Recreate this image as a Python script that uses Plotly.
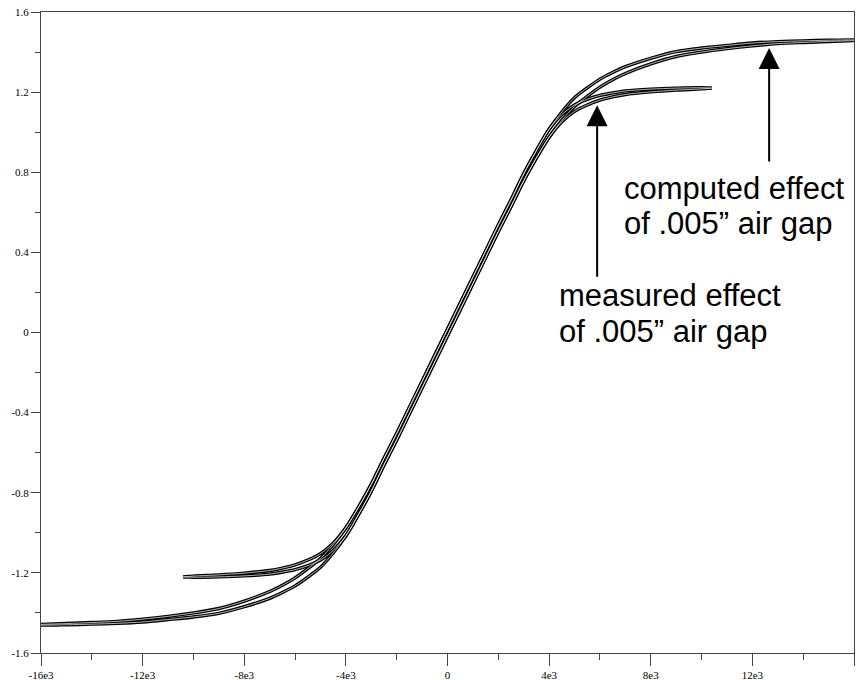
import plotly.graph_objects as go

# ---- data ----
H_computed = [-16700, -16000, -15000, -14000, -13000, -12000, -11000, -10000, -9000, -8000,
              -7000, -6500, -6000, -5500, -5000, -4500, -4000, -3500, -3000, -2500, -2000,
              -1500, -1000, -500, 0, 500, 1000, 1500, 2000, 2500, 3000, 3500, 4000, 4500,
              5000, 5500, 6000, 6500, 7000, 8000, 9000, 10000, 11000, 12000, 13000, 14000,
              15000, 16000, 16700]
B_computed_desc = [-1.46, -1.457, -1.453, -1.448, -1.442, -1.431, -1.417, -1.40, -1.378, -1.341,
                   -1.293, -1.262, -1.225, -1.179, -1.128, -1.059, -0.975, -0.872, -0.758, -0.629,
                   -0.504, -0.374, -0.244, -0.114, 0.016, 0.146, 0.276, 0.406, 0.536, 0.661,
                   0.792, 0.908, 1.015, 1.101, 1.172, 1.221, 1.265, 1.298, 1.327, 1.369, 1.402,
                   1.42, 1.433, 1.445, 1.452, 1.456, 1.459, 1.461, 1.46]
B_computed_asc = [-1.46, -1.461, -1.459, -1.456, -1.452, -1.445, -1.433, -1.42, -1.402, -1.369,
                  -1.327, -1.298, -1.265, -1.221, -1.172, -1.101, -1.015, -0.908, -0.792, -0.661,
                  -0.536, -0.406, -0.276, -0.146, -0.016, 0.114, 0.244, 0.374, 0.504, 0.629,
                  0.758, 0.872, 0.975, 1.059, 1.128, 1.179, 1.225, 1.262, 1.293, 1.341, 1.378,
                  1.40, 1.417, 1.431, 1.442, 1.448, 1.453, 1.457, 1.46]

H_measured = [-10400, -10000, -9000, -8000, -7000, -6500, -6000, -5500, -5000, -4500, -4000,
              -3500, -3000, -2500, -2000, -1500, -1000, -500, 0, 500, 1000, 1500, 2000, 2500,
              3000, 3500, 4000, 4500, 5000, 5500, 6000, 6500, 7000, 8000, 9000, 10000, 10400]
B_measured_desc = [-1.22, -1.216, -1.21, -1.201, -1.188, -1.176, -1.16, -1.136, -1.104, -1.052,
                   -0.975, -0.872, -0.758, -0.629, -0.504, -0.374, -0.244, -0.114, 0.016, 0.146,
                   0.276, 0.406, 0.536, 0.661, 0.792, 0.908, 1.015, 1.088, 1.136, 1.164, 1.184,
                   1.196, 1.206, 1.215, 1.22, 1.222, 1.22]
B_measured_asc = [-1.22, -1.222, -1.22, -1.215, -1.206, -1.196, -1.184, -1.164, -1.136, -1.088,
                  -1.015, -0.908, -0.792, -0.661, -0.536, -0.406, -0.276, -0.146, -0.016, 0.114,
                  0.244, 0.374, 0.504, 0.629, 0.758, 0.872, 0.975, 1.052, 1.104, 1.136, 1.16,
                  1.176, 1.188, 1.201, 1.21, 1.216, 1.22]

x_tick_vals = [-16000, -12000, -8000, -4000, 0, 4000, 8000, 12000, 16000]
x_tick_text = ["-16e3", "-12e3", "-8e3", "-4e3", "0", "4e3", "8e3", "12e3", "16e3"]
y_tick_vals = [-1.6, -1.2, -0.8, -0.4, 0, 0.4, 0.8, 1.2, 1.6]
y_tick_text = ["-1.6", "-1.2", "-0.8", "-0.4", "0", "0.4", "0.8", "1.2", "1.6"]

label_font = dict(family="Liberation Sans, Arial, sans-serif", size=31, color="black")
axis_color = "#444444"

fig = go.Figure()

branches = [
    (H_computed, B_computed_desc),
    (H_computed, B_computed_asc),
    (H_measured, B_measured_desc),
    (H_measured, B_measured_asc),
]
for hx, by in branches:
    fig.add_trace(go.Scatter(x=hx, y=by, mode="lines",
                             line=dict(color="black", width=3.4, shape="spline", smoothing=0.8),
                             showlegend=False, hoverinfo="skip"))
for hx, by in branches:
    fig.add_trace(go.Scatter(x=hx, y=by, mode="lines",
                             line=dict(color="white", width=0.7, shape="spline", smoothing=0.8),
                             showlegend=False, hoverinfo="skip"))

annotations = [
    dict(x=12660, y=1.42, xref="x", yref="y", ax=0, ay=115, text="", showarrow=True,
         arrowhead=2, arrowsize=2.1, arrowwidth=2, arrowcolor="black"),
    dict(x=5890, y=1.135, xref="x", yref="y", ax=0, ay=173, text="", showarrow=True,
         arrowhead=2, arrowsize=2.1, arrowwidth=2, arrowcolor="black"),
    dict(x=6870, y=0.721, xref="x", yref="y", text="computed effect", showarrow=False,
         xanchor="left", yanchor="middle", font=label_font),
    dict(x=6870, y=0.544, xref="x", yref="y", text="of .005\u201d air gap", showarrow=False,
         xanchor="left", yanchor="middle", font=label_font),
    dict(x=4311, y=0.185, xref="x", yref="y", text="measured effect", showarrow=False,
         xanchor="left", yanchor="middle", font=label_font),
    dict(x=4311, y=0.005, xref="x", yref="y", text="of .005\u201d air gap", showarrow=False,
         xanchor="left", yanchor="middle", font=label_font),
]

tick_font = dict(family="Liberation Serif, Times New Roman, serif", size=11, color="black")

fig.update_layout(
    width=862, height=680,
    margin=dict(l=41, r=8, t=12, b=27, pad=0, autoexpand=False),
    paper_bgcolor="white", plot_bgcolor="white",
    annotations=annotations,
    xaxis=dict(range=[-16000, 16000], tickmode="array", tickvals=x_tick_vals, ticktext=x_tick_text,
               ticks="outside", ticklen=12, tickwidth=1, tickcolor=axis_color,
               automargin=False,
               showline=True, linecolor=axis_color, linewidth=1, mirror=True,
               showgrid=False, zeroline=False, tickfont=tick_font,
               minor=dict(tickmode="linear", tick0=0, dtick=2000, ticks="outside", ticklen=6,
                          tickwidth=1, tickcolor=axis_color, showgrid=False)),
    yaxis=dict(range=[-1.6, 1.6], tickmode="array", tickvals=y_tick_vals, ticktext=y_tick_text,
               ticks="outside", ticklen=9, tickwidth=1, tickcolor=axis_color,
               automargin=False,
               showline=True, linecolor=axis_color, linewidth=1, mirror=True,
               showgrid=False, zeroline=False, tickfont=tick_font,
               minor=dict(tickmode="linear", tick0=0, dtick=0.2, ticks="outside", ticklen=5,
                          tickwidth=1, tickcolor=axis_color, showgrid=False)),
)

fig.write_html("out.html")
